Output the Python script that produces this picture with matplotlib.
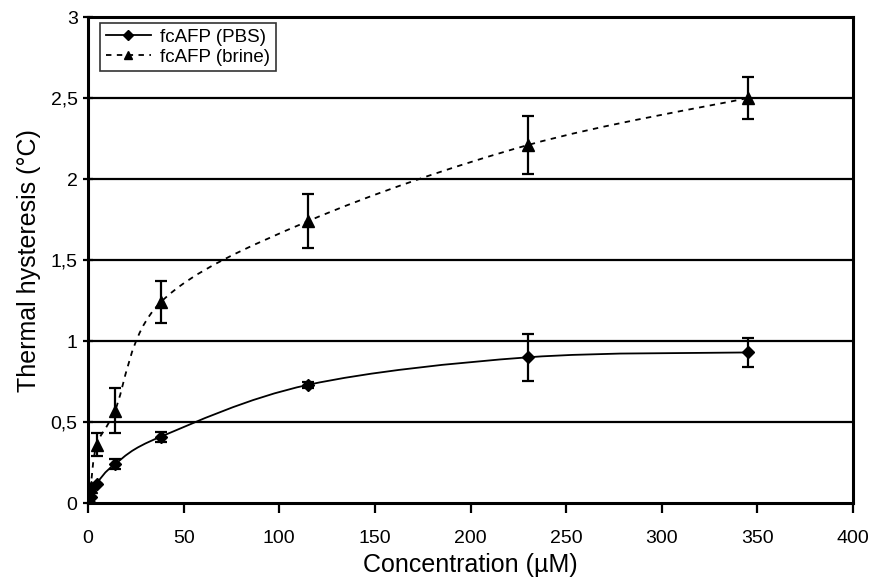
import numpy as np
import matplotlib.pyplot as plt
from matplotlib.path import Path
from matplotlib.patches import PathPatch

plt.rcParams['font.family'] = ['Liberation Sans Narrow', 'Liberation Sans', 'DejaVu Sans']

conc = [0.45, 1.4, 4.5, 14, 38, 115, 230, 345]
th_pbs = [0.01, 0.04, 0.12, 0.24, 0.41, 0.73, 0.90, 0.93]
err_pbs = [0.0, 0.0, 0.0, 0.03, 0.03, 0.02, 0.145, 0.09]
th_brine = [0.02, 0.10, 0.36, 0.57, 1.24, 1.74, 2.21, 2.50]
err_brine = [0.0, 0.0, 0.07, 0.14, 0.13, 0.165, 0.18, 0.13]

xticks = [0, 50, 100, 150, 200, 250, 300, 350, 400]
yticks = [0, 0.5, 1, 1.5, 2, 2.5, 3]
ylabels = ["0", "0,5", "1", "1,5", "2", "2,5", "3"]


def smooth_path(ax, x, y):
    # Excel-like smoothed line: cubic Bezier through the data points
    pts = np.array(ax.transData.transform(np.column_stack([x, y])))
    verts = [pts[0]]
    codes = [Path.MOVETO]
    n = len(pts)
    for i in range(n - 1):
        p0 = pts[max(i - 1, 0)]
        p1 = pts[i]
        p2 = pts[i + 1]
        p3 = pts[min(i + 2, n - 1)]
        c1 = p1 + (p2 - p0) / 6
        c2 = p2 - (p3 - p1) / 6
        verts += [c1, c2, p2]
        codes += [Path.CURVE4] * 3
    verts = ax.transData.inverted().transform(np.array(verts))
    return Path(verts, codes)


fig = plt.figure(figsize=(8.74, 5.79), dpi=100)
ax = fig.add_axes([0.1007, 0.131, 0.8753, 0.8396])
ax.set_xlim(0, 400)
ax.set_ylim(0, 3)

for v in yticks[1:-1]:
    ax.axhline(v, color="black", lw=1.6, zorder=1)

ax.add_patch(PathPatch(smooth_path(ax, conc, th_pbs), fill=False, color="black", lw=1.3, zorder=2))
ax.add_patch(PathPatch(smooth_path(ax, conc, th_brine), fill=False, color="black", lw=1.3,
                       ls=(0, (3, 3)), zorder=2))

ax.errorbar(conc, th_pbs, yerr=err_pbs, fmt="D", color="black", ms=6, capsize=4,
            elinewidth=1.6, capthick=1.6, zorder=3)
ax.errorbar(conc, th_brine, yerr=err_brine, fmt="^", color="black", ms=8, capsize=4,
            elinewidth=1.6, capthick=1.6, zorder=3)

# legend handles
ax.plot([], [], "-D", color="black", ms=5, lw=1.3, label="fcAFP (PBS)")
ax.plot([], [], "--^", color="black", ms=6, lw=1.3, label="fcAFP (brine)", dashes=(3, 3))
leg = ax.legend(loc="upper left", fontsize=13.5, frameon=True, fancybox=False,
                edgecolor="black", borderpad=0.3, handlelength=2.4, handletextpad=0.5,
                labelspacing=0.15, borderaxespad=0, bbox_to_anchor=(0.016, 0.988))
leg.get_frame().set_linewidth(1.2)

ax.set_xticks(xticks)
ax.set_yticks(yticks)
ax.set_yticklabels(ylabels)
ax.tick_params(axis="both", labelsize=14, width=1.6, length=7, direction="out", pad=12)
ax.tick_params(axis="y", length=7, direction="inout", pad=4)
for s in ax.spines.values():
    s.set_linewidth(2.2)

ax.set_xlabel("Concentration (µM)", fontsize=18, labelpad=5)
ax.set_ylabel("Thermal hysteresis (°C)", fontsize=18, labelpad=7)

fig.savefig("out.png", dpi=100)
